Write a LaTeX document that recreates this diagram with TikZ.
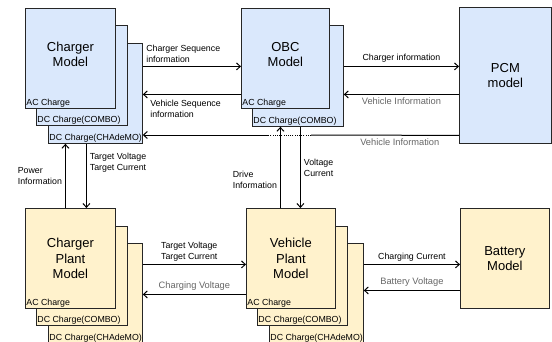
\documentclass[tikz,border=0pt]{standalone}
\usepackage{fontspec}
\setmainfont{Liberation Sans}
\usetikzlibrary{arrows.meta}
\definecolor{ctrlblue}{HTML}{DAE8FC}
\definecolor{plantyellow}{HTML}{FFF2CC}
\tikzset{
        box/.style={draw=black!85, line width=0.8pt, anchor=north west, inner sep=0pt, align=center, font=\fontsize{13}{15.5}\selectfont},
        size/.style 2 args={minimum width=#1pt, minimum height=#2pt},
        % Controller models
        box_ctrl/.style={box, fill=ctrlblue},
        % Plant models
        box_plant/.style={box, fill=plantyellow},
        % Model name, a little above the middle of the box
        title/.style={align=center, yshift=4pt, font=\fontsize{13}{15.5}\selectfont},
        % Charge type in the lower left corner of a box
        tag/.style={anchor=south west, inner sep=1.2pt, font=\fontsize{8.8}{10}\selectfont},
        % Signal names
        sig/.style={align=left, inner sep=3pt, font=\fontsize{8.8}{11}\selectfont},
        sig_grey/.style={sig, text=black!60, font=\fontsize{9.3}{11}\selectfont},
        flow/.style={-{Straight Barb[length=3.8pt,width=7pt]}, line width=1pt}
}
\begin{document}
\begin{tikzpicture}[x=1pt, y=-1pt]
    \useasboundingbox (0,0) rectangle (552,341);
    \clip (0,0) rectangle (552,341);

    % Charger model stack
    \node[box_ctrl, size={94}{100}, label={[tag]south west:DC Charge(CHAdeMO)}] (cm3) at (48,43) {};
    \node[box_ctrl, size={91}{100}, label={[tag]south west:DC Charge(COMBO)}] (cm2) at (36,25) {};
    \node[box_ctrl, size={90}{100}, label={[tag]south west:AC Charge}, label={[title]center:Charger\\Model}] (cm1) at (25,8) {};

    % OBC model stack
    \node[box_ctrl, size={91}{101}, label={[tag]south west:DC Charge(COMBO)}] (obc2) at (252,25) {};
    \node[box_ctrl, size={88}{100}, label={[tag]south west:AC Charge}, label={[title]center:OBC\\Model}] (obc1) at (241,8) {};

    \node[box_ctrl, size={92}{136}] (pcm) at (459,7) {PCM\\model};

    % Charger plant stack
    \node[box_plant, size={94}{100}, label={[tag]south west:DC Charge(CHAdeMO)}] (cp3) at (48,243) {};
    \node[box_plant, size={91}{99}, label={[tag]south west:DC Charge(COMBO)}] (cp2) at (36,226) {};
    \node[box_plant, size={90}{100}, label={[tag]south west:AC Charge}] (cp1) at (25,208) {Charger\\Plant\\Model};

    % Vehicle plant stack
    \node[box_plant, size={94}{100}, label={[tag]south west:DC Charge(CHAdeMO)}] (vp3) at (269,243) {};
    \node[box_plant, size={90}{99}, label={[tag]south west:DC Charge(COMBO)}] (vp2) at (257,226) {};
    \node[box_plant, size={89}{100}, label={[tag]south west:AC Charge}] (vp1) at (246,208) {Vehicle\\Plant\\Model};

    \node[box_plant, size={89}{100}] (battery) at (460,208) {Battery\\Model};

    % charger <-> OBC
    \draw[flow] ([yshift=-8pt]obc1.west -| cm3.east) -- node[sig, anchor=south west, pos=0] {Charger Sequence\\information} ([yshift=-8pt]obc1.west);
    \draw[flow] ([yshift=-36pt]obc1.west) -- ([yshift=-36pt]obc1.west -| cm3.east) node[sig, anchor=north west, xshift=4pt, yshift=-2pt] {Vehicle Sequence\\information};

    % OBC <-> PCM
    \draw[flow] ([yshift=9pt]pcm.west -| obc2.east) -- node[sig, above, inner sep=4pt] {Charger information} ([yshift=9pt]pcm.west);
    \draw[flow] ([yshift=-19pt]pcm.west) -- node[sig_grey, below] {Vehicle Information} ([yshift=-19pt]pcm.west -| obc2.east);

    % PCM -> charger, passing behind the OBC signals
    \coordinate (gap_r) at (311,135);
    \coordinate (gap_l) at (268,135);
    \draw[line width=1pt] ([yshift=-60pt]pcm.west) -- node[sig_grey, below, pos=0.4] {Vehicle Information} (gap_r);
    \draw[line width=1pt, dash pattern=on 1pt off 1.2pt] (gap_r) -- (gap_l);
    \draw[flow] (gap_l) -- (gap_l -| cm3.east);

    % charger <-> charger plant
    \draw[flow] ([xshift=-5pt]cp1.north) -- node[sig, left] {Power\\Information} ([xshift=-5pt]cp1.north |- cm3.south);
    \draw[flow] ([xshift=16pt]cp1.north |- cm3.south) -- node[sig, right, pos=0.3] {Target Voltage\\Target Current} ([xshift=16pt]cp1.north);

    % OBC <-> vehicle plant
    \draw[flow] ([xshift=-10.5pt]vp1.north) -- node[sig, left, pos=0.35] {Drive\\Information} ([xshift=-10.5pt]vp1.north |- obc2.south);
    \draw[flow] ([xshift=9.5pt]vp1.north |- obc2.south) -- node[sig, right] {Voltage\\Current} ([xshift=9.5pt]vp1.north);

    % charger plant <-> vehicle plant
    \draw[flow] ([yshift=-6pt]vp1.west -| cp3.east) -- node[sig, above, pos=0.45] {Target Voltage\\Target Current} ([yshift=-6pt]vp1.west);
    \draw[flow] ([yshift=-36pt]vp1.west) -- node[sig_grey, above] {Charging Voltage} ([yshift=-36pt]vp1.west -| cp3.east);

    % vehicle plant <-> battery
    \draw[flow] ([yshift=-6pt]battery.west -| vp3.east) -- node[sig, above] {Charging Current} ([yshift=-6pt]battery.west);
    \draw[flow] ([yshift=-32pt]battery.west) -- node[sig_grey, above] {Battery Voltage} ([yshift=-32pt]battery.west -| vp3.east);
\end{tikzpicture}
\end{document}
